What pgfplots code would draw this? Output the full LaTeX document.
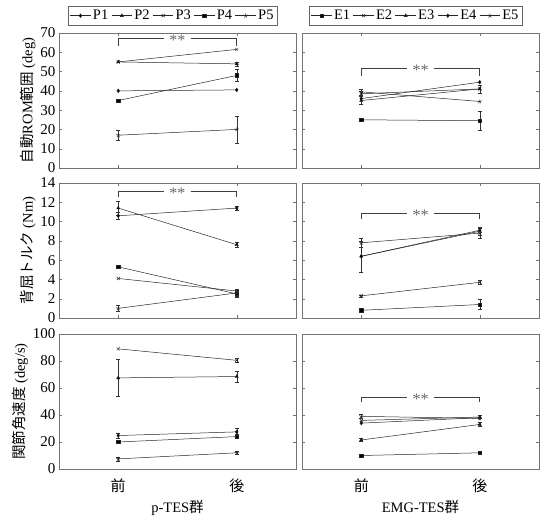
\documentclass[border=0pt]{standalone}
\usepackage{fontspec}
\setmainfont{Liberation Serif}
\newfontfamily\cjk{Noto Sans CJK JP}
\usepackage{pgfplots}
\pgfplotsset{compat=1.18}
\pgfplotsset{
  panel/.style={
    scale only axis, width=237pt, height=135pt,
    xmin=0, xmax=4, xtick={1,3}, xticklabels={},
    axis line style={black!55}, tick style={black!55},
    tick align=inside, major tick length=3pt,
    /pgf/number format/assume math mode=true,
    tick label style={font=\fontsize{15}{17}\selectfont},
    label style={font=\fontsize{14.5}{17}\selectfont},
    ylabel style={yshift=-2pt},
    clip=false,
    error bars/error bar style={black!80, line width=0.4pt},
    error bars/error mark options={rotate=90, mark size=2pt, black!80},
  },
  ser/.style={black!85, line width=0.5pt, mark size=1.8pt, mark options={solid, fill=black}},
  sP1/.style={ser, mark=diamond*},
  sP2/.style={ser, mark=triangle*},
  sP3/.style={ser, mark=x, mark size=2.2pt},
  sP4/.style={ser, mark=square*, mark size=1.7pt},
  sP5/.style={ser, mark=star, mark size=2.2pt},
  eb/.style={error bars/.cd, y dir=both, y explicit},
  leg/.style={legend columns=5,
    legend style={draw=black!60, at={(0.48,1.06)}, anchor=south,
      font=\fontsize{14.5}{16}\selectfont, inner sep=1.5pt,
      /tikz/every even column/.append style={column sep=1pt},
      /tikz/every odd column/.append style={column sep=0pt}},
    legend image code/.code={
      \draw[mark repeat=2,mark phase=2,##1]
        plot coordinates {(0cm,0cm) (0.36cm,0cm) (0.72cm,0cm)};},
    legend cell align=left},
}
\newcommand{\bracket}[3]{%
  \draw[black!75, line width=0.6pt] (axis cs:1,#2) -- (axis cs:1,#1) -- (axis cs:1.78,#1);
  \draw[black!75, line width=0.6pt] (axis cs:2.22,#1) -- (axis cs:3,#1) -- (axis cs:3,#2);
  \node[black!60, font=\fontsize{16}{18}\selectfont] at (axis cs:2,#3) {**};}
\begin{document}
\begin{tikzpicture}
\path[use as bounding box] (0,0) rectangle (544pt,-520pt);
% ---------- ROM P ----------
\begin{axis}[panel, at={(59pt,-33pt)}, anchor=north west,
  ymin=0, ymax=70, ytick={0,10,...,70},
  ylabel={{\cjk 自動}ROM{\cjk 範囲} (deg)}, leg]
\addplot[sP1] coordinates {(1,40) (3,40.5)};
\addplot[sP2, eb] coordinates {(1,55) (3,54) +- (0,1)};
\addplot[sP3] coordinates {(1,55) (3,61.5)};
\addplot[sP4, eb] coordinates {(1,35) (3,48) +- (0,3)};
\addplot[sP5, eb] coordinates {(1,17) +- (0,2.5) (3,20) +- (0,7)};
\legend{P1,P2,P3,P4,P5}
\bracket{67}{63.5}{66}
\end{axis}
% ---------- ROM E ----------
\begin{axis}[panel, at={(302pt,-33pt)}, anchor=north west,
  ymin=0, ymax=70, ytick={0,10,...,70}, yticklabels={}, leg]
\addplot[sP4, eb] coordinates {(1,25) (3,24.5) +- (0,5)};
\addplot[sP3, eb] coordinates {(1,38.5) +- (0,1.5) (3,41) +- (0,2)};
\addplot[sP2, eb] coordinates {(1,35) +- (0,2) (3,41)};
\addplot[sP1] coordinates {(1,36) (3,44.5)};
\addplot[sP5, eb] coordinates {(1,39.5) +- (0,1.5) (3,34.5)};
\legend{E1,E2,E3,E4,E5}
\bracket{51.5}{47.5}{50.5}
\end{axis}
% ---------- Torque P ----------
\begin{axis}[panel, at={(59pt,-183pt)}, anchor=north west,
  ymin=0, ymax=14, ytick={0,2,...,14},
  ylabel={{\cjk 背屈トルク} (Nm)}]
\addplot[sP1, eb] coordinates {(1,10.6) +- (0,0.4) (3,11.4) +- (0,0.2)};
\addplot[sP2, eb] coordinates {(1,11.4) +- (0,0.7) (3,7.6) +- (0,0.3)};
\addplot[sP3, eb] coordinates {(1,4.1) (3,2.8) +- (0,0.2)};
\addplot[sP4, eb] coordinates {(1,5.3) (3,2.5) +- (0,0.3)};
\addplot[sP5, eb] coordinates {(1,1.0) +- (0,0.3) (3,2.6) +- (0,0.3)};
\bracket{13.1}{12.6}{12.9}
\end{axis}
% ---------- Torque E ----------
\begin{axis}[panel, at={(302pt,-183pt)}, anchor=north west,
  ymin=0, ymax=14, ytick={0,2,...,14}, yticklabels={}]
\addplot[sP4, eb] coordinates {(1,0.8) (3,1.4) +- (0,0.5)};
\addplot[sP3, eb] coordinates {(1,2.3) +- (0,0.1) (3,3.7) +- (0,0.2)};
\addplot[sP2, eb] coordinates {(1,6.4) +- (0,1.6) (3,9.0) +- (0,0.4)};
\addplot[sP1] coordinates {(1,6.4) (3,9.1)};
\addplot[sP5, eb] coordinates {(1,7.8) +- (0,0.5) (3,8.8) +- (0,0.5)};
\bracket{10.9}{10.3}{10.7}
\end{axis}
% ---------- Velocity P ----------
\begin{axis}[panel, at={(59pt,-334pt)}, anchor=north west,
  ymin=0, ymax=100, ytick={0,20,...,100},
  xticklabels={{\cjk 前},{\cjk 後}}, major x tick style={draw=none},
  xticklabel style={yshift=-6pt},
  xlabel style={yshift=-1pt},
  ylabel={{\cjk 関節角速度} (deg/s)},
  xlabel={p-TES{\cjk 群}}]
\addplot[sP1, eb] coordinates {(1,24.8) +- (0,2) (3,27.5) +- (0,3)};
\addplot[sP2, eb] coordinates {(1,67.5) +- (0,13.5) (3,68.5) +- (0,4)};
\addplot[sP3, eb] coordinates {(1,89) (3,80.5) +- (0,1.5)};
\addplot[sP4, eb] coordinates {(1,20) (3,24) +- (0,1.5)};
\addplot[sP5, eb] coordinates {(1,7.5) +- (0,1.5) (3,12) +- (0,1)};
\end{axis}
% ---------- Velocity E ----------
\begin{axis}[panel, at={(302pt,-334pt)}, anchor=north west,
  ymin=0, ymax=100, ytick={0,20,...,100}, yticklabels={},
  xticklabels={{\cjk 前},{\cjk 後}}, major x tick style={draw=none},
  xticklabel style={yshift=-6pt},
  xlabel style={yshift=-1pt},
  xlabel={EMG-TES{\cjk 群}}]
\addplot[sP4] coordinates {(1,10) (3,12)};
\addplot[sP3, eb] coordinates {(1,36) (3,38.5) +- (0,1)};
\addplot[sP2, eb] coordinates {(1,21.5) +- (0,1) (3,33) +- (0,1.5)};
\addplot[sP1] coordinates {(1,34) (3,38)};
\addplot[sP5, eb] coordinates {(1,39) +- (0,1.5) (3,37.5)};
\bracket{53}{49.5}{52}
\end{axis}
\end{tikzpicture}
\end{document}
